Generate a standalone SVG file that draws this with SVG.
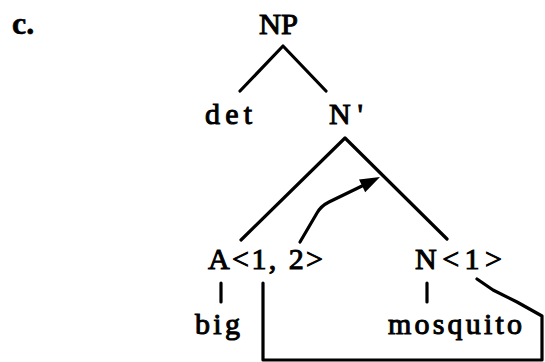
<svg xmlns="http://www.w3.org/2000/svg" width="545" height="362" viewBox="0 0 545 362">
<style>
text{font-family:"Liberation Serif","Times New Roman",serif;font-size:30px;fill:#000;stroke:#000;stroke-width:1}
.ln{stroke:#000;stroke-width:3.2;fill:none;stroke-linecap:round;stroke-linejoin:round}
</style>
<rect width="545" height="362" fill="#fff"/>
<text x="12" y="34" style="font-weight:bold;font-size:32px;stroke-width:0.6">c.</text>
<g id="NP"><text x="259" y="34" textLength="39" lengthAdjust="spacingAndGlyphs">NP</text></g>
<g id="det"><text x="205" y="124" textLength="47" lengthAdjust="spacing">det</text></g>
<g id="Nbar"><text x="329" y="124" textLength="34" lengthAdjust="spacing">N'</text></g>
<g id="A"><text x="208" y="269" textLength="115" lengthAdjust="spacing">A&lt;1, 2&gt;</text></g>
<g id="N"><text x="415" y="269" textLength="87" lengthAdjust="spacing">N&lt;1&gt;</text></g>
<g id="big"><text x="195" y="334" textLength="45" lengthAdjust="spacing">big</text></g>
<g id="mosquito"><text x="388" y="334" textLength="134" lengthAdjust="spacing">mosquito</text></g>
<g id="connectors">
<path class="ln" d="M240,91 L283,46 L326,91"/>
<path class="ln" d="M241,240 L345,138 L447,239"/>
<path class="ln" d="M221,283 L221,302"/>
<path class="ln" d="M427,283 L427,302"/>
<path class="ln" d="M263,283 L263,360 L542,360 L542,316 L517,302 L493,290 L477,279"/>
<path class="ln" d="M300,242 L317,213 Q321,206 329,202 L362,186"/>
<polygon points="380,177 359,179.6 365.2,192.2" fill="#000"/>
</g>
</svg>
